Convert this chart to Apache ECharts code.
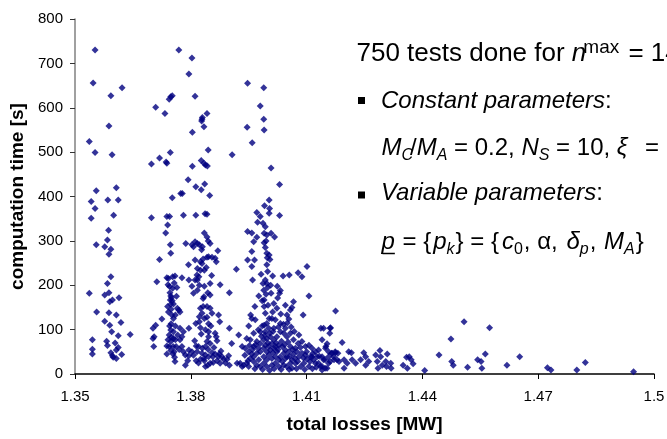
<!DOCTYPE html>
<html><head><meta charset="utf-8">
<script src="https://cdn.jsdelivr.net/npm/echarts@6/dist/echarts.min.js"></script>
<style>html,body{margin:0;padding:0;background:#fff}#c{width:667px;height:439px}</style>
</head><body><div id="c"></div>
<script>
// ---- data (total losses [MW], computation time [s]) ----
const clusterA = [
[1.3552,730],[1.3547,656],[1.3593,627],[1.3622,645],[1.3588,559],[1.3537,524],[1.3552,499],[1.3596,494],
[1.3555,413],[1.3607,420],[1.3542,389],[1.3585,392],[1.3612,392],[1.3552,373],[1.3600,358],[1.3542,351],
[1.3537,182],[1.3555,291],[1.3556,140],[1.3545,77],[1.3545,56],[1.3545,45],[1.3577,178],[1.3584,302],
[1.3577,287],[1.3587,324],[1.3588,270],[1.3593,281],[1.3584,204],[1.3593,219],[1.3588,183],[1.3590,163],
[1.3597,167],[1.3614,172],[1.3577,119],[1.3588,138],[1.3607,133],[1.3619,116],[1.3595,95],[1.3612,86],
[1.3643,89],[1.3582,74],[1.3584,64],[1.3593,48],[1.3597,41],[1.3599,38],[1.3607,54],[1.3607,35],[1.3621,44],
[1.3590,110],[1.3604,70],[1.3612,60]
];
const clusterB = [
[1.3769,730],[1.3803,712],[1.3795,676],[1.3811,626],[1.3709,601],[1.3733,587],[1.3744,619],[1.3748,625],
[1.3752,627],[1.3842,587],[1.3830,578],[1.3829,574],[1.3828,570],[1.3834,557],[1.3804,545],[1.3845,505],
[1.3747,499],[1.3719,487],[1.3736,478],[1.3738,475],[1.3698,473],[1.3804,468],[1.3827,481],[1.3834,475],
[1.3838,471],[1.3843,469],[1.3793,438],[1.3813,422],[1.3836,428],[1.3827,415],[1.3849,402],[1.3778,407],
[1.3774,407],[1.3752,397],[1.3698,352],[1.3738,355],[1.3745,355],[1.3781,358],[1.3813,358],[1.3837,361],
[1.3842,360],
[1.3702,103],[1.3705,84],[1.3702,80],[1.3704,62],[1.3709,110],[1.3712,208],[1.3719,258],[1.3725,124],
[1.3735,318],[1.3740,336],[1.3747,291],[1.3748,272],[1.3738,217],[1.3742,215],[1.3753,219],[1.3759,221],
[1.3741,201],[1.3745,197],[1.3753,193],[1.3764,195],[1.3746,183],[1.3748,176],[1.3750,172],[1.3747,167],
[1.3752,165],[1.3748,157],[1.3755,158],[1.3749,146],[1.3742,140],[1.3765,148],[1.3769,144],[1.3772,140],
[1.3760,133],[1.3755,125],[1.3749,113],[1.3745,108],[1.3748,99],[1.3755,95],[1.3744,88],[1.3750,83],
[1.3755,80],[1.3741,77],[1.3748,73],[1.3760,77],[1.3738,63],[1.3744,62],[1.3754,62],[1.3762,62],
[1.3748,53],[1.3757,50],[1.3738,45],[1.3754,45],[1.3758,38],[1.3759,28],[1.3772,77],[1.3777,84],
[1.3772,103],[1.3781,95],[1.3777,62],[1.3781,50],[1.3786,20],[1.3777,217],[1.3787,294],[1.3794,246],
[1.3795,212],[1.3803,291],[1.3807,287],[1.3811,298],[1.3817,294],[1.3822,291],[1.3835,318],[1.3842,309],
[1.3850,294],[1.3830,287],[1.3870,278],[1.3811,257],[1.3817,238],[1.3816,223],[1.3817,212],[1.3825,253],
[1.3829,249],[1.3835,234],[1.3842,263],[1.3846,264],[1.3855,263],[1.3863,261],[1.3866,253],[1.3832,259],
[1.3825,234],[1.3821,219],[1.3850,204],[1.3835,198],[1.3844,183],[1.3850,178],[1.3834,174],[1.3876,201],
[1.3900,183],[1.3811,212],[1.3803,198],[1.3807,182],[1.3817,189],[1.3825,148],[1.3832,152],[1.3842,152],
[1.3850,148],[1.3822,129],[1.3829,137],[1.3835,125],[1.3813,114],[1.3822,118],[1.3855,137],[1.3842,128],
[1.3846,113],[1.3852,108],[1.3872,133],[1.3875,118],[1.3825,104],[1.3795,103],[1.3846,95],[1.3863,92],
[1.3866,84],[1.3846,84],[1.3868,75],[1.3842,73],[1.3850,69],[1.3838,62],[1.3820,62],[1.3814,63],
[1.3803,50],[1.3795,54],[1.3786,43],[1.3795,41],[1.3816,50],[1.3829,47],[1.3838,43],[1.3834,35],
[1.3846,39],[1.3855,48],[1.3857,39],[1.3863,45],[1.3874,45],[1.3872,39],[1.3881,39],[1.3885,33],
[1.3898,41],[1.3894,33],[1.3814,30],[1.3825,33],[1.3835,30],[1.3838,17],[1.3850,24],[1.3858,26],
[1.3844,20],[1.3876,24],[1.3900,20],[1.3920,24],[1.3924,88],[1.3906,69],[1.3900,103],[1.3918,236],
[1.3933,62],
[1.3760,108],[1.3766,88],[1.3751,133],[1.3740,152],[1.3763,175],[1.3757,205],[1.3770,55],[1.3792,30],
[1.3807,42],[1.3820,25],[1.3830,58],[1.3845,55],[1.3860,60],[1.3868,30],[1.3878,52],[1.3890,25],
[1.3810,75],[1.3827,90],[1.3838,100],[1.3832,170],[1.3822,200],[1.3840,240],[1.3854,222],[1.3828,280],
[1.3845,300]
];
const clusterC = [
[1.3947,655],[1.3989,645],[1.3980,604],[1.3989,574],[1.3946,556],[1.3990,550],[1.3959,521],[1.3907,494],
[1.4008,464],[1.4030,427],[1.4003,392],[1.3991,379],[1.4004,373],[1.4003,362],[1.3971,364],[1.4030,357],
[1.3947,321],[1.3958,318],[1.3971,308],[1.3973,342],[1.3990,317],[1.3997,313],[1.3993,332],[1.4008,317],
[1.4017,309],[1.3990,296],[1.3993,285],[1.3963,298],[1.3958,276],[1.3965,257],[1.3947,257],[1.3958,242],
[1.3997,272],[1.4003,268],[1.4005,258],[1.3997,246],[1.3999,231],[1.3993,212],[1.3987,204],[1.3997,204],
[1.3960,212],[1.3976,176],[1.3989,189],[1.3999,195],[1.4012,221],[1.4039,221],[1.4055,223],[1.4078,228],
[1.4088,219],[1.4101,242],[1.4106,176],[1.4091,133],[1.4066,163],[1.4062,150],[1.4058,144],[1.4049,133],
[1.4054,124],[1.4032,188],[1.4030,182],[1.4025,171],[1.4008,182],[1.4015,159],[1.4023,148],[1.3990,167],
[1.3990,152],[1.3993,137],[1.3966,152],[1.3955,133],[1.3958,125],[1.3950,108],[1.3967,122],[1.3985,108],
[1.3997,114],[1.4010,125],[1.4019,122],[1.4032,114],[1.4045,103],[1.4015,103],[1.4002,103],[1.3993,95],
[1.3980,95],[1.3963,92],[1.3945,80],[1.3954,77],[1.3941,58],[1.3950,50],[1.3963,62],[1.3971,73],
[1.3980,69],[1.3989,77],[1.3997,80],[1.4006,84],[1.4015,77],[1.4023,84],[1.4032,95],[1.4041,92],
[1.4049,84],[1.4058,92],[1.4066,77],[1.4060,106],[1.4080,88],[1.4078,69],[1.4088,73],[1.4097,62],
[1.4106,65],[1.4114,58],[1.4123,50],[1.4131,54],[1.4137,103],[1.4140,77],[1.4144,103],[1.4150,62],
[1.4157,50],[1.4161,103],[1.4165,47],[1.4174,50],[1.4181,47],[1.4140,39],[1.4148,32],[1.4157,24],
[1.4148,13],[1.4136,17],[1.4123,24],[1.4114,39],[1.4101,33],[1.4106,17],[1.4093,24],[1.4085,17],
[1.4080,39],[1.4066,45],[1.4062,32],[1.4058,24],[1.4049,39],[1.4041,47],[1.4032,39],[1.4023,50],
[1.4015,58],[1.4006,54],[1.3997,50],[1.3989,58],[1.3980,50],[1.3971,47],[1.3963,39],[1.3954,35],
[1.3945,24],[1.3937,20],[1.3963,28],[1.3976,32],[1.3989,39],[1.3997,32],[1.4002,43],[1.4010,35],
[1.4019,39],[1.4028,32],[1.4037,28],[1.4045,35],[1.4054,50],[1.3989,24],[1.3997,17],[1.4010,20],
[1.4019,24],[1.4028,17],[1.4041,20],[1.4049,17],[1.4062,13],[1.3980,17],[1.3971,20],[1.3993,65],
[1.4002,62],[1.4010,69],[1.4019,62],[1.4028,65],[1.4037,62],[1.4045,54],[1.4058,62],[1.4071,58],
[1.4071,24],[1.4075,50],[1.4088,47],[1.4097,43],[1.4110,39],[1.4118,32],[1.4127,39],[1.4131,24],
[1.4140,17],[1.4161,28],[1.4170,39],[1.4179,32],[1.3928,24],[1.3933,17],[1.3950,17],[1.3958,45],
[1.3960,55],[1.3968,66],[1.3975,58],[1.3983,85],[1.3992,88],[1.4000,70],[1.4005,92],[1.4013,48],
[1.4021,70],[1.4026,55],[1.4035,74],[1.4043,66],[1.4052,72],[1.4056,40],[1.4064,55],[1.4070,35],
[1.4077,28],[1.4084,60],[1.4092,36],[1.4100,50],[1.4109,28],[1.4116,46],[1.4125,15],[1.4133,40],
[1.3966,12],[1.3986,10],[1.4004,8],[1.4016,12],[1.4034,10],[1.4055,10],[1.4074,12],[1.4095,10],
[1.4115,12],[1.3952,64],[1.3940,42],[1.3948,30],[1.3975,100],[1.3990,110],[1.4003,125],[1.4012,140],
[1.4000,155],[1.3985,165],[1.3995,180],[1.4007,200],[1.3982,225],[1.3998,262],[1.3995,300],[1.3987,340],
[1.3980,355],[1.4013,96],[1.4027,106],[1.4040,112],[1.4050,115],[1.4068,96],[1.4033,135],[1.4045,155],
[1.4024,198]
];
const tail = [
[1.4175,142],[1.4162,104],[1.4160,92],[1.4192,71],[1.4153,68],[1.4149,58],[1.4175,48],[1.4166,47],
[1.4157,39],[1.4144,32],[1.4171,32],[1.4184,28],[1.4197,32],[1.4209,50],[1.4216,48],[1.4205,24],
[1.4218,32],[1.4227,24],[1.4197,13],[1.4153,13],[1.4140,9],[1.4248,48],[1.4253,39],[1.4240,32],
[1.4253,20],[1.4261,28],[1.4279,43],[1.4290,53],[1.4283,28],[1.4292,39],[1.4285,13],[1.4296,20],
[1.4305,28],[1.4309,45],[1.4307,17],[1.4319,13],[1.4318,24],[1.4350,20],[1.4359,38],[1.4366,39],
[1.4361,13],[1.4371,32],[1.4376,23],[1.4406,8],[1.4443,43],[1.4474,79],[1.4476,28],[1.4480,20],
[1.4508,118],[1.4517,15],[1.4543,32],[1.4552,28],[1.4554,13],[1.4563,45],[1.4574,104],[1.4619,20],
[1.4652,39],[1.4724,14],[1.4733,9],[1.4800,9],[1.4822,26],[1.4947,5]
];
const xTickLabels = ['1.35','1.38','1.41','1.44','1.47','1.5'];
const yTickLabels = ['0','100','200','300','400','500','600','700','800'];
const xName = 'total losses [MW]';
const yName = 'computation time [s]';

// ---- annotation text ----
const FF = '"Liberation Sans", Arial, sans-serif';
const mctx = document.createElement('canvas').getContext('2d');
function fstr(s){ return (s.i?'italic ':'normal ') + 'normal ' + s.sz + 'px ' + FF; }
const graphics = [];
function buildLine(x, base, segs){
  let cx = x;
  segs.forEach(s => {
    mctx.font = fstr(s);
    const w = mctx.measureText(s.t).width;
    const by = base + (s.dy || 0);
    graphics.push({type:'text', x: cx, y: by - 0.35 * s.sz, silent:true,
      style:{text:s.t, fontSize:s.sz, fontFamily:FF, fontStyle:s.i?'italic':'normal', fontWeight:'normal',
             fill:'#000', verticalAlign:'middle', align:'left'}});
    if (s.u) graphics.push({type:'line', silent:true, shape:{x1:cx+1, y1:base+3, x2:cx+w, y2:base+3}, style:{stroke:'#000', lineWidth:1.5}});
    cx += w + (s.k || 0);
  });
}
const L = 26, M = 24, S = 16;
buildLine(356.5, 63, [
  {t:'750 tests done for ', sz:L}, {t:'n', sz:L, i:1, k:-3}, {t:'max', sz:19, dy:-9, k:2}, {t:' = 14', sz:L}
]);
buildLine(381, 110, [{t:'Constant parameters', sz:M, i:1}, {t:':', sz:M}]);
buildLine(381.5, 156.5, [
  {t:'M', sz:M, i:1}, {t:'C', sz:S, i:1, dy:5, k:-3}, {t:'/', sz:M}, {t:'M', sz:M, i:1}, {t:'A', sz:S, i:1, dy:5},
  {t:' = 0.2, ', sz:M}, {t:'N', sz:M, i:1}, {t:'S', sz:S, i:1, dy:5}, {t:' = 10, ', sz:M},
  {t:'\u03BE', sz:M, i:1, k:4}, {t:'  = ', sz:M}
]);
buildLine(381, 201.5, [{t:'Variable parameters', sz:M, i:1}, {t:':', sz:M}]);
buildLine(381.5, 250.5, [
  {t:'p', sz:M, i:1, u:1, k:1}, {t:' = {', sz:M, k:2}, {t:'p', sz:M, i:1}, {t:'k', sz:S, i:1, dy:5, k:1},
  {t:'} = {', sz:M, k:3}, {t:'c', sz:M, i:1}, {t:'0', sz:S, dy:5, k:1}, {t:', \u03B1, ', sz:M, k:2},
  {t:'\u03B4', sz:M, i:1}, {t:'p', sz:S, i:1, dy:5, k:1}, {t:', ', sz:M, k:1}, {t:'M', sz:M, i:1},
  {t:'A', sz:S, i:1, dy:5, k:1}, {t:'}', sz:M}
]);
graphics.push({type:'rect', silent:true, shape:{x:358, y:97, width:7, height:7}, style:{fill:'#000'}});
graphics.push({type:'rect', silent:true, shape:{x:358, y:191.5, width:7, height:7}, style:{fill:'#000'}});

const chart = echarts.init(document.getElementById('c'), null, {renderer:'canvas'});
chart.setOption({
  animation:false,
  backgroundColor:'#fff',
  textStyle:{fontFamily:FF},
  grid:{left:75, right:13, top:19, bottom:65, containLabel:false, outerBoundsMode:'none'},
  xAxis:{
    type:'value', min:1.35, max:1.5, interval:0.03,
    name:xName, nameLocation:'middle', nameGap:41,
    nameTextStyle:{fontSize:19, fontWeight:'bold', color:'#000', fontFamily:FF},
    axisLine:{show:true, onZero:false, lineStyle:{color:'#000', width:1.5}},
    axisTick:{show:true, inside:false, length:5, lineStyle:{color:'#000'}},
    axisLabel:{fontSize:15, color:'#000', margin:15, fontFamily:FF,
      formatter:v => { const i = Math.round((v - 1.35) / 0.03); return xTickLabels[i] !== undefined ? xTickLabels[i] : ''; }},
    splitLine:{show:false}
  },
  yAxis:{
    type:'value', min:0, max:800, interval:100,
    name:yName, nameLocation:'middle', nameGap:42, nameRotate:90,
    nameTextStyle:{fontSize:19, fontWeight:'bold', color:'#000', fontFamily:FF},
    axisLine:{show:true, lineStyle:{color:'#808080', width:1.5}},
    axisTick:{show:true, inside:false, length:5, lineStyle:{color:'#333'}},
    axisLabel:{fontSize:15, color:'#000', margin:12, fontFamily:FF,
      formatter:v => { const i = Math.round(v / 100); return yTickLabels[i] !== undefined ? yTickLabels[i] : ''; }},
    splitLine:{show:false}
  },
  series:[{
    type:'scatter', symbol:'diamond', symbolSize:7,
    itemStyle:{color:'#000080'},
    data:[].concat(clusterA, clusterB, clusterC, tail)
  }],
  graphic:graphics
});
</script></body></html>
